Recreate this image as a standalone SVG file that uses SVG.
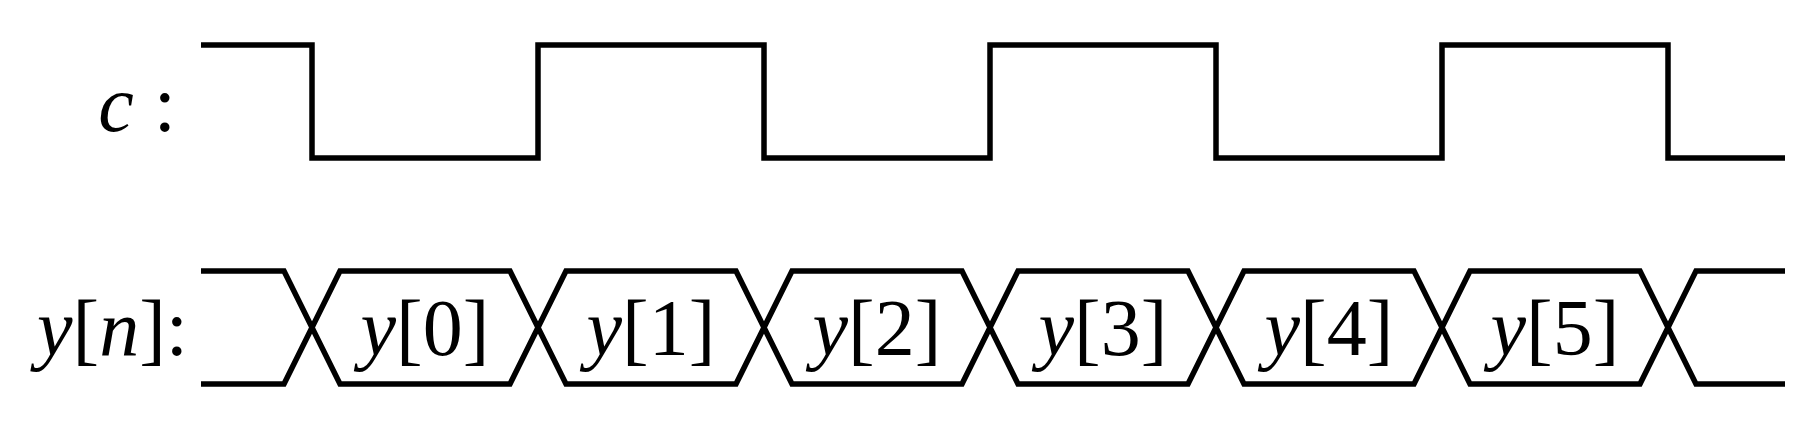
<svg xmlns="http://www.w3.org/2000/svg" width="1817" height="433" viewBox="0 0 1817 433">
<style>
.w{fill:none;stroke:#000;stroke-width:5.5;stroke-linejoin:miter}
.t{font-family:"Liberation Serif","Times New Roman",serif;font-size:80px;fill:#000}
.i{font-style:italic}
</style>
<rect width="1817" height="433" fill="#fff"/>
<g id="label-c"><text class="t" x="176" y="131" text-anchor="end"><tspan class="i">c</tspan> :</text></g>
<g id="label-y"><text class="t" x="188" y="355" text-anchor="end"><tspan class="i">y</tspan>[<tspan class="i">n</tspan>]:</text></g>
<g id="connectors">
<path id="clock" class="w" d="M201 45H312V158H538V45H764V158H990V45H1216V158H1442V45H1668V158H1785"/>
<path id="bus-top" class="w" d="M201 271H284L340 384H510L566 271H736L792 384H962L1018 271H1188L1244 384H1414L1470 271H1640L1696 384H1785"/>
<path id="bus-bot" class="w" d="M201 384H284L340 271H510L566 384H736L792 271H962L1018 384H1188L1244 271H1414L1470 384H1640L1696 271H1785"/>
</g>
<g id="v0"><text class="t" x="425" y="355" text-anchor="middle"><tspan class="i">y</tspan>[0]</text></g>
<g id="v1"><text class="t" x="651" y="355" text-anchor="middle"><tspan class="i">y</tspan>[1]</text></g>
<g id="v2"><text class="t" x="877" y="355" text-anchor="middle"><tspan class="i">y</tspan>[2]</text></g>
<g id="v3"><text class="t" x="1103" y="355" text-anchor="middle"><tspan class="i">y</tspan>[3]</text></g>
<g id="v4"><text class="t" x="1329" y="355" text-anchor="middle"><tspan class="i">y</tspan>[4]</text></g>
<g id="v5"><text class="t" x="1555" y="355" text-anchor="middle"><tspan class="i">y</tspan>[5]</text></g>
</svg>
